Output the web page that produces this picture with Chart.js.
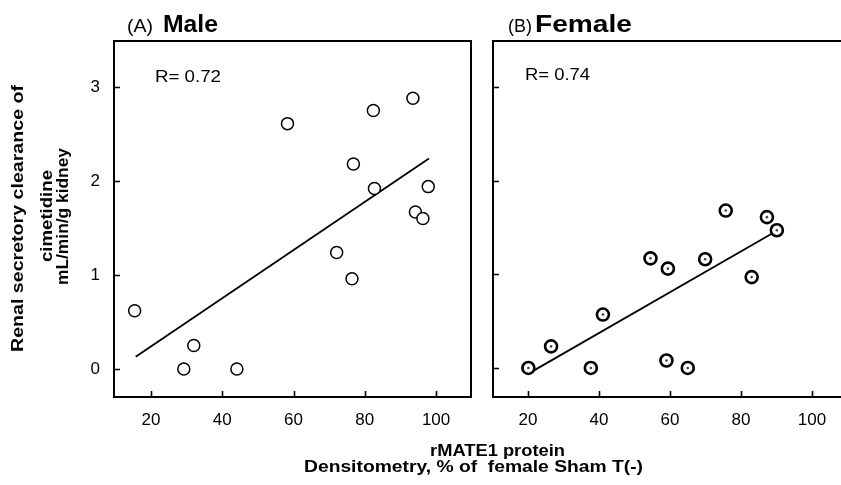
<!DOCTYPE html>
<html><head><meta charset="utf-8">
<script src="https://cdn.jsdelivr.net/npm/chart.js@4/dist/chart.umd.min.js"></script>
<style>
html,body{margin:0;padding:0;background:#fff;overflow:hidden;width:841px;height:485px;position:relative}
canvas{position:absolute;top:0}
#c1{left:0}
#c2{left:480px}
</style></head><body>
<canvas id="c1" width="841" height="485"></canvas>
<canvas id="c2" width="420" height="485"></canvas>
<script>
// ---- data ----
const xTickValues = [20, 40, 60, 80, 100];
const yTickValues = [0, 1, 2, 3];
const maleX = [58.3, 82.4, 93.5, 76.8, 82.7, 97.8, 94.2, 96.3, 72.1, 76.4, 15.4, 32.0, 29.2, 44.1];
const maleY = [2.61, 2.75, 2.88, 2.18, 1.92, 1.94, 1.67, 1.60, 1.24, 0.96, 0.62, 0.25, 0.00, 0.00];
const maleFitX = [15.7, 98.0];
const maleFitY = [0.13, 2.24];
const femaleX = [20.1, 26.5, 37.7, 41.1, 54.5, 59.4, 59.0, 65.0, 69.9, 75.7, 83.0, 87.3, 90.1];
const femaleY = [0.00, 0.23, 0.00, 0.57, 1.17, 1.06, 0.08, 0.00, 1.16, 1.68, 0.97, 1.61, 1.47];
const femaleFitX = [20.6, 89.0];
const femaleFitY = [-0.05, 1.44];
const panelTags = ['(A)', '(B)'];
const panelNames = ['Male', 'Female'];
const rLabels = ['R= 0.72', 'R= 0.74'];
const yTitleLines = ['Renal secretory clearance of', 'cimetidine', 'mL/min/g kidney'];
const xTitleLines = ['rMATE1 protein', 'Densitometry, % of  female Sham T(-)'];

const FAM = '"Liberation Sans", Arial, Helvetica, sans-serif';
const pts = (xs, ys) => xs.map((x, i) => ({x: x, y: ys[i]}));

function fitText(ctx, text, x, y, font, width, rot) {
  ctx.save();
  ctx.font = font;
  const w = ctx.measureText(text).width;
  ctx.translate(x, y);
  if (rot) ctx.rotate(rot);
  ctx.scale(width / w, 1);
  ctx.textAlign = 'left';
  ctx.textBaseline = 'alphabetic';
  ctx.fillStyle = '#000';
  ctx.fillText(text, rot ? -w / 2 : 0, 0);
  ctx.restore();
}

function framePlugin(extra) {
  return {
    id: 'frame',
    afterDraw(chart) {
      const ctx = chart.ctx, a = chart.chartArea;
      const xs = chart.scales.x, ys = chart.scales.y;
      ctx.save();
      ctx.strokeStyle = '#000';
      ctx.lineWidth = 2;
      ctx.strokeRect(Math.round(a.left), Math.round(a.top), Math.round(a.right - a.left), Math.round(a.bottom - a.top));
      ctx.lineWidth = 1.6;
      ctx.beginPath();
      xs.ticks.forEach(t => {
        const p = Math.round(xs.getPixelForValue(t.value)) + 0.5;
        ctx.moveTo(p, a.bottom); ctx.lineTo(p, a.bottom - 6);
      });
      ys.ticks.forEach(t => {
        const p = Math.round(ys.getPixelForValue(t.value)) + 0.5;
        ctx.moveTo(a.left, p); ctx.lineTo(a.left + 6, p);
      });
      ctx.stroke();
      ctx.restore();
      extra(chart.ctx);
    }
  };
}

function makeChart(canvas, o) {
  return new Chart(canvas, {
    data: {
      datasets: [
        {type: 'scatter', data: pts(o.xs, o.ys), pointRadius: 6, pointHoverRadius: 6,
         pointBorderWidth: o.bw, pointBorderColor: '#000', pointBackgroundColor: '#fff', order: 1},
        ...(o.inner ? [{type: 'scatter', data: pts(o.xs, o.ys), pointRadius: 1.3, pointBorderWidth: 0,
         pointBackgroundColor: '#444', order: 0}] : []),
        {type: 'line', data: pts(o.fx, o.fy), borderColor: '#000', borderWidth: 1.8,
         pointRadius: 0, fill: false, order: 2}
      ]
    },
    options: {
      responsive: false, animation: false, devicePixelRatio: 1, events: [],
      layout: {padding: {left: 0, top: 41, right: o.padRight, bottom: 0}},
      plugins: {legend: {display: false}, tooltip: {enabled: false}, title: {display: false}},
      scales: {
        x: {type: 'linear', min: o.xmin, max: o.xmax, offset: false,
            afterBuildTicks: s => { s.ticks = xTickValues.map(v => ({value: v})); },
            afterFit: s => { s.height = 88; },
            grid: {display: false, drawTicks: false}, border: {display: false},
            ticks: {color: '#000', font: {family: FAM, size: 17}, padding: 13, maxRotation: 0, autoSkip: false}},
        y: {type: 'linear', min: o.ymin, max: o.ymax, offset: false,
            afterBuildTicks: s => { s.ticks = yTickValues.map(v => ({value: v})); },
            afterFit: s => { s.width = o.yw; },
            grid: {display: false, drawTicks: false}, border: {display: false},
            ticks: {display: o.ylabels, color: '#000', font: {family: FAM, size: 17}, padding: 14}}
      }
    },
    plugins: [framePlugin(o.text)]
  });
}

makeChart(document.getElementById('c1'), {
  xs: maleX, ys: maleY, fx: maleFitX, fy: maleFitY, bw: 1.5, inner: false,
  xmin: 9.61, xmax: 109.8, ymin: -0.298, ymax: 3.489, yw: 114, padRight: 370, ylabels: true,
  text: ctx => {
    fitText(ctx, panelTags[0], 127, 32, '19px ' + FAM, 26);
    fitText(ctx, panelNames[0], 163, 32, 'bold 24px ' + FAM, 55);
    fitText(ctx, rLabels[0], 155, 82, '16px ' + FAM, 66);
    fitText(ctx, yTitleLines[0], 23, 218.5, 'bold 16px ' + FAM, 267, -Math.PI / 2);
    fitText(ctx, yTitleLines[1], 52, 216, 'bold 16px ' + FAM, 92, -Math.PI / 2);
    fitText(ctx, yTitleLines[2], 68, 216.5, 'bold 16px ' + FAM, 137, -Math.PI / 2);
    fitText(ctx, xTitleLines[0], 430, 456, 'bold 16px ' + FAM, 135);
    fitText(ctx, xTitleLines[1], 304, 472, 'bold 16px ' + FAM, 339);
  }
});

makeChart(document.getElementById('c2'), {
  xs: femaleX, ys: femaleY, fx: femaleFitX, fy: femaleFitY, bw: 2.6, inner: true,
  xmin: 10.14, xmax: 110.7, ymin: -0.31, ymax: 3.49, yw: 13, padRight: 50, ylabels: false,
  text: ctx => {
    fitText(ctx, panelTags[1], 508 - 480, 32, '19px ' + FAM, 24);
    fitText(ctx, panelNames[1], 535 - 480, 32, 'bold 24px ' + FAM, 97);
    fitText(ctx, rLabels[1], 525 - 480, 80, '16px ' + FAM, 65);
  }
});
</script>
</body></html>
